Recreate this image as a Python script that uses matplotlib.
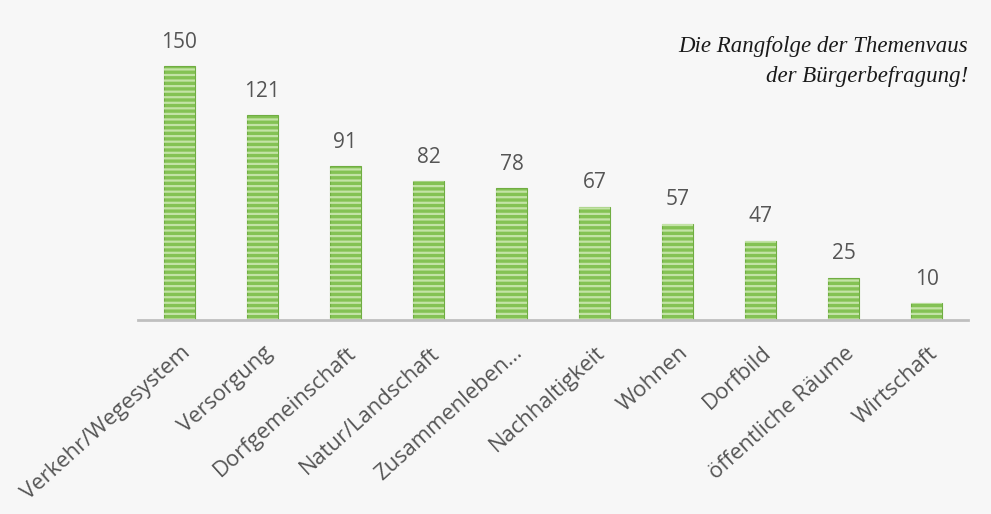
import matplotlib.pyplot as plt
import matplotlib.transforms as mtransforms
import numpy as np

# Daten aus der Grafik
themen = ['Verkehr/Wegesystem', 'Versorgung', 'Dorfgemeinschaft', 'Natur/Landschaft',
          'Zusammenleben...', 'Nachhaltigkeit', 'Wohnen', 'Dorfbild',
          'öffentliche Räume', 'Wirtschaft']
stimmen = [150, 121, 91, 82, 78, 67, 57, 47, 25, 10]

plt.rcParams['hatch.linewidth'] = 1.6

fig = plt.figure(figsize=(9.91, 5.14), dpi=100, facecolor='#f7f7f7')
ax = fig.add_axes([0.139, 0.377, 0.838, 0.56])
ax.set_facecolor('#f7f7f7')

x = np.arange(len(themen))
breite = 0.37
ax.bar(x, stimmen, width=breite, color='#84c254', edgecolor='#70ad42', linewidth=0.8)
ax.bar(x, stimmen, width=breite, facecolor='none', edgecolor='#c3e3a6',
       hatch='---', linewidth=0)

for xi, wert in zip(x, stimmen):
    ax.text(xi, wert + 8, str(wert), ha='center', va='bottom',
            fontsize=15, color='#555555', family='Open Sans')

ax.set_xlim(-0.5, len(themen) - 0.5)
ax.set_ylim(0, 170)
ax.set_yticks([])
for s in ['top', 'right', 'left']:
    ax.spines[s].set_visible(False)
ax.spines['bottom'].set_color('#bfbfbf')
ax.spines['bottom'].set_linewidth(2)

ax.set_xticks(x)
ax.set_xticklabels(themen, rotation=42, ha='right', va='top', rotation_mode='anchor',
                   fontsize=15.8, color='#555555', family='Open Sans')
ax.tick_params(axis='x', length=0, pad=16)
versatz = mtransforms.ScaledTranslation(1 / 100, 0, fig.dpi_scale_trans)
for lab in ax.get_xticklabels():
    lab.set_transform(lab.get_transform() + versatz)

fig.text(0.977, 0.910, 'Die Rangfolge der Themenvaus', ha='right', va='center',
         fontsize=16.5, style='italic', family='Liberation Serif', color='#1a1a1a')
fig.text(0.977, 0.852, 'der Bürgerbefragung!', ha='right', va='center',
         fontsize=16.5, style='italic', family='Liberation Serif', color='#1a1a1a')

fig.savefig('out.png', dpi=100, facecolor=fig.get_facecolor())
